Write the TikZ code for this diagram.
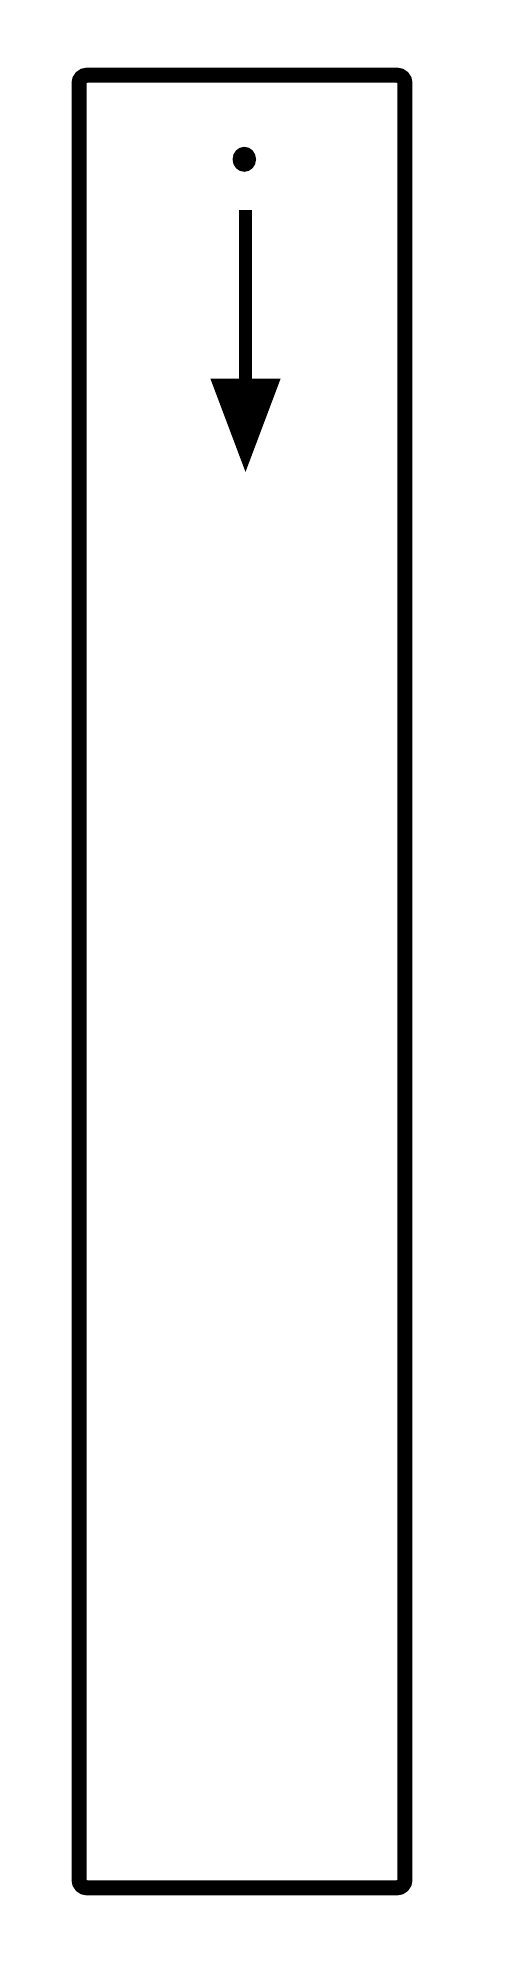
\documentclass[tikz,border=0pt]{standalone}
\usetikzlibrary{arrows.meta,shapes.geometric}

\begin{document}
\begin{tikzpicture}[x=0.02cm,y=-0.02cm,
  frame/.style={draw,line width=0.3cm,rounded corners=0.16cm,inner sep=0pt,minimum width=6.52cm,minimum height=36.26cm},
  spot/.style={ellipse,fill,inner sep=0pt,minimum width=0.47cm,minimum height=0.5cm},
  flow/.style={line width=0.26cm,-{Triangle[width=1.33cm,length=1.89cm]}}]
\useasboundingbox (0,0) rectangle (505,1969);
\node[frame] (box) at (242,981.5) {};
\node[spot] (dot) at (244.3,159.3) {};
\coordinate (start) at (245.5,210);
\coordinate (end) at (245.5,473);
\draw[flow] (start) -- (end);
\end{tikzpicture}
\end{document}
